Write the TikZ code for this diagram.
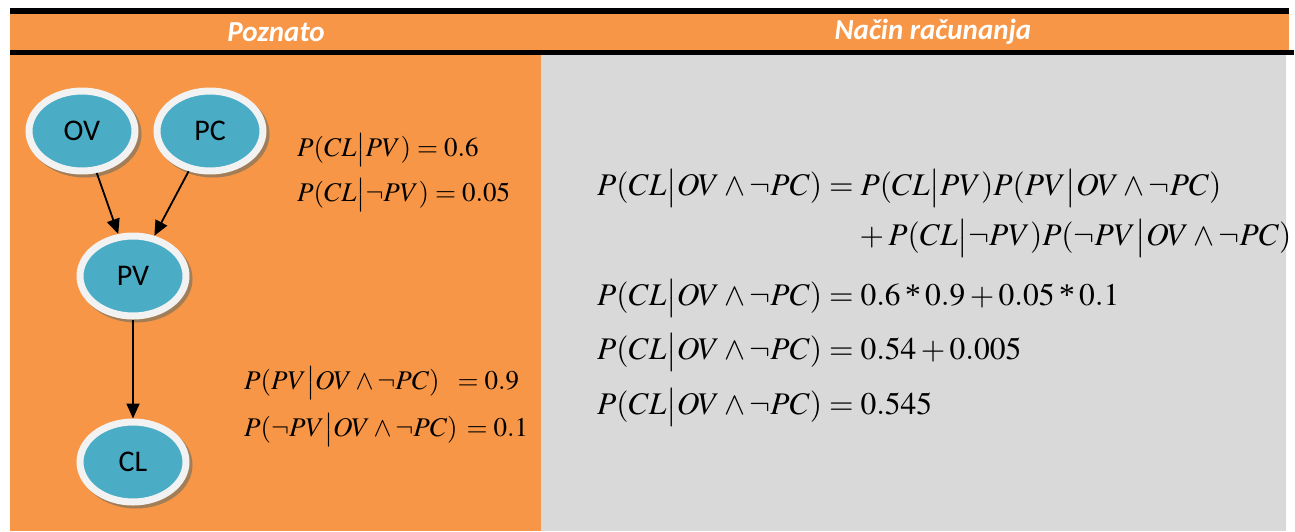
\documentclass[tikz,border=0pt]{standalone}
\usepackage{mathptmx}
\usepackage[no-math]{fontspec}
\newfontfamily\carlito{Carlito}
\newfontfamily\tms{Liberation Serif}
\usetikzlibrary{arrows.meta,shapes.geometric}
\definecolor{orng}{HTML}{F79646}
\definecolor{bnode}{HTML}{4BACC6}
\definecolor{ring}{HTML}{F2F2F2}
\definecolor{gry}{HTML}{D9D9D9}
\definecolor{shd}{HTML}{A27E58}
\tikzset{
  bn/.style={ellipse, draw=ring, line width=7pt, fill=bnode, inner sep=0pt,
    minimum width=106pt, minimum height=80pt, font=\carlito\fontsize{30}{34}\selectfont},
  bnshadow/.style={ellipse, fill=shd, inner sep=0pt, minimum width=113pt, minimum height=87pt},
  eq/.style={anchor=west, inner sep=0pt, font=\fontsize{27}{32}\selectfont},
  eqr/.style={anchor=west, inner sep=0pt, font=\fontsize{31.5}{36}\selectfont},
  hdr/.style={text=white, font=\carlito\bfseries\itshape\fontsize{29}{32}\selectfont},
  arr/.style={line width=1.8pt, -{Triangle[width=13pt,length=15pt]}}
}
\newcommand{\cb}{{\big|}}
\newcommand{\ms}{\mathbin{\mbox{\tms *}}}
\begin{document}
\begin{tikzpicture}[x=1pt,y=-1pt]
\useasboundingbox (0,0) rectangle (1295,531);
% table
\fill[black] (10,8) rectangle (1289,14);
\fill[orng] (10,14) rectangle (1289,50);
\fill[black] (10,50) rectangle (1294,55);
\fill[orng] (10,55) rectangle (541,531);
\fill[gry] (541,55) rectangle (1286,531);
\node[hdr] (h1) at (276,32) {Poznato};
\node[hdr] (h2) at (933,32) {Način računanja};
% shadows
\node[bnshadow] at (85,134) {};
\node[bnshadow] at (213,134) {};
\node[bnshadow] at (136,279) {};
\node[bnshadow] at (136,465) {};
% nodes
\node[bn] (OV) at (82,131) {OV};
\node[bn] (PC) at (210,131) {PC};
\node[bn] (PV) at (133,276) {PV};
\node[bn] (CL) at (133,462) {CL};
\draw[arr] (OV) -- (PV);
\draw[arr] (PC) -- (PV);
\draw[arr] (PV) -- (CL);
% left formulas
\node[eq] (f1) at (297,150) {$P(CL\cb PV)=0.6$};
\node[eq] (f2) at (297,195) {$P(CL\cb\neg PV)=0.05$};
\node[eq] (f3) at (244,383) {$P(PV\cb OV\wedge\neg PC)\hspace{12pt}=0.9$};
\node[eq] (f4) at (244,430) {$P(\neg PV\cb OV\wedge\neg PC)\,=0.1$};
% right formulas
\node[eqr] (r1) at (597,188) {$P(CL\cb OV\wedge\neg PC)=P(CL\cb PV)P(PV\cb OV\wedge\neg PC)$};
\begin{scope}
\clip (541,55) rectangle (1290,531);
\node[eqr] (r2) at (855,238) {${}+P(CL\cb\neg PV)P(\neg PV\cb OV\wedge\neg PC)$};
\end{scope}
\node[eqr] (r3) at (597,298) {$P(CL\cb OV\wedge\neg PC)=0.6\ms0.9+0.05\ms0.1$};
\node[eqr] (r4) at (597,352) {$P(CL\cb OV\wedge\neg PC)=0.54+0.005$};
\node[eqr] (r5) at (597,407) {$P(CL\cb OV\wedge\neg PC)=0.545$};
\end{tikzpicture}
\end{document}
